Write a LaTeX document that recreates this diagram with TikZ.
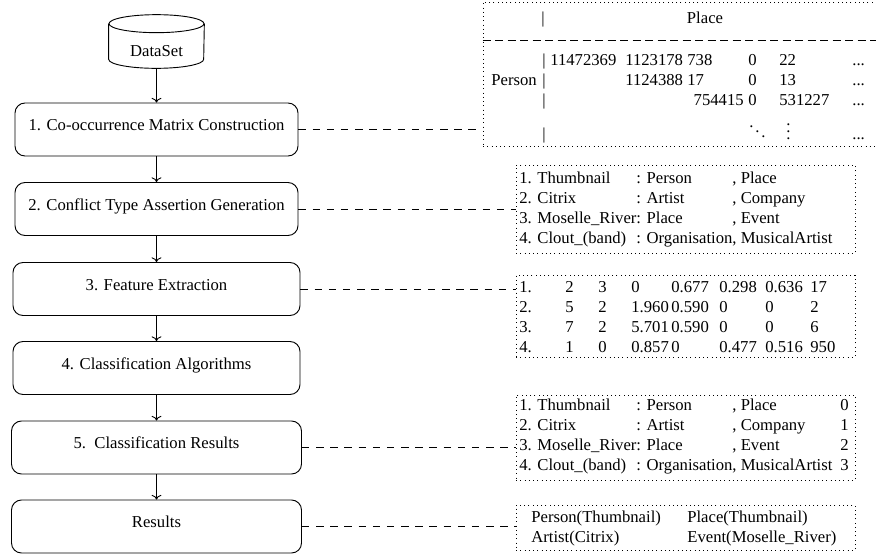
\documentclass[tikz,border=0pt]{standalone}
\usepackage{fontspec}
\setmainfont{Liberation Serif}
\usetikzlibrary{shapes.geometric,fit,arrows.meta}
\newcommand\mydots{...}
\begin{document}
\begin{tikzpicture}[x=0.6pt,y=-0.6pt,
  lw/.style={line width=0.55pt},
  stepbox/.style={draw, lw, rounded corners=6pt, text height=7pt, text depth=5.8pt, inner sep=0pt, minimum height=31.8pt},
  frame/.style={draw, dotted, lw, inner sep=0pt},
  conn/.style={lw, dash pattern=on 4.5pt off 4pt},
  ruledash/.style={lw, dash pattern=on 5pt off 2.5pt},
  flow/.style={->, lw},
  cell/.style={anchor=base west, inner sep=0pt},
  cellr/.style={anchor=base east, inner sep=0pt}]
\useasboundingbox (0,0) rectangle (876,555);

% left column: DataSet cylinder
\node[minimum width=57pt, minimum height=31.8pt, inner sep=0pt] (ds) at (156.5,41.5) {};
\draw[lw] ([yshift=-5.4pt]ds.north) ellipse[x radius=28.5pt, y radius=5.4pt];
\draw[lw] ([yshift=-5.4pt]ds.north west) -- ([yshift=5.4pt]ds.south west)
  arc[start angle=180, end angle=360, x radius=28.5pt, y radius=5.4pt]
  -- ([yshift=-5.4pt]ds.north east);
\node[inner sep=0pt] (dsl) at (156.5,51.5) {DataSet};

\node[stepbox, minimum width=169.8pt] (b1) at (156.5,129.5) {1. Co-occurrence Matrix Construction};
\node[stepbox, minimum width=169.8pt] (b2) at (156.5,209) {2. Conflict Type Assertion Generation};
\node[stepbox, minimum width=172.2pt] (b3) at (156.5,289) {3. Feature Extraction};
\node[stepbox, minimum width=172.2pt] (b4) at (156.5,368) {4. Classification Algorithms};
\node[stepbox, minimum width=174pt] (b5) at (156.5,447.5) {5.\ \ Classification Results};
\node[stepbox, minimum width=174pt] (b6) at (156.5,526.5) {Results};

\draw[flow] (ds) -- (b1);
\draw[flow] (b1) -- (b2);
\draw[flow] (b2) -- (b3);
\draw[flow] (b3) -- (b4);
\draw[flow] (b4) -- (b5);
\draw[flow] (b5) -- (b6);

% right frames
\node[frame, fit={(483,2) (882,146)}] (f1) {};
\node[frame, fit={(516,165) (855,253)}] (f2) {};
\node[frame, fit={(516,275) (855,357)}] (f3) {};
\node[frame, fit={(516,395) (855,480)}] (f4) {};
\node[frame, fit={(516,505) (855,550)}] (f5) {};

\draw[conn] (b1.east) -- (b1.east -| f1.west);
\draw[conn] (b2.east) -- (b2.east -| f2.west);
\draw[conn] (b3.east) -- (b3.east -| f3.west);
\draw[conn] (b5.east) -- (b5.east -| f4.west);
\draw[conn] (b6.east) -- (b6.east -| f5.west);

% co-occurrence matrix
\coordinate (hr) at (600,40);
\draw[ruledash] (f1.west |- hr) -- (f1.east |- hr);
\node[cell] (mh1) at (541,23) {|};
\node[anchor=base, inner sep=0pt] (mh2) at (705,23) {Place};
\foreach \t/\x/\y [count=\i] in {
  |/542/65, 11472369/550/65, 1123178/625/65, 738/687/65, 0/748/65, 22/779/65, \mydots/852/65,
  Person/491/85, |/542/85, 1124388/625/85, 17/687/85, 0/748/85, 13/779/85, \mydots/852/85,
  |/542/105, 0/748/105, 531227/779/105, \mydots/852/105,
  |/542/139, {$\ddots$}/748/139, {$\vdots$}/786/139, \mydots/852/139}
  \node[cell] (m\i) at (\x,\y) {\t};
\node[cellr] (m754) at (744,105) {754415};

% conflict type assertions
\node[cell] (t2) at (519,183) {\begin{tabular}[t]{@{}l@{}l@{}l@{}}
1. Thumbnail & : Person & , Place\\
2. Citrix & : Artist & , Company\\
3. Moselle\_River & : Place & , Event\\
4. Clout\_(band) & : Organisation & , MusicalArtist
\end{tabular}};

% features
\foreach \t/\x/\y [count=\i] in {
  1./519/292, 2/565/292, 3/598/292, 0/631/292, 0.677/671/292, 0.298/719/292, 0.636/765/292, 17/810/292,
  2./519/312, 5/565/312, 2/598/312, 1.960/631/312, 0.590/671/312, 0/719/312, 0/765/312, 2/810/312,
  3./519/332, 7/565/332, 2/598/332, 5.701/631/332, 0.590/671/332, 0/719/332, 0/765/332, 6/810/332,
  4./519/352, 1/565/352, 0/598/352, 0.857/631/352, 0/671/352, 0.477/719/352, 0.516/765/352, 950/810/352}
  \node[cell] (x\i) at (\x,\y) {\t};

% classification results
\node[cell] (t4) at (519,410) {\begin{tabular}[t]{@{}l@{}l@{}l@{\hspace{4.8pt}}r@{}}
1. Thumbnail & : Person & , Place & 0\\
2. Citrix & : Artist & , Company & 1\\
3. Moselle\_River & : Place & , Event & 2\\
4. Clout\_(band) & : Organisation & , MusicalArtist & 3
\end{tabular}};

% results
\node[cell] (r1) at (531,522) {Person(Thumbnail)};
\node[cell] (r2) at (687,522) {Place(Thumbnail)};
\node[cell] (r3) at (531,542) {Artist(Citrix)};
\node[cell] (r4) at (687,542) {Event(Moselle\_River)};
\end{tikzpicture}
\end{document}
